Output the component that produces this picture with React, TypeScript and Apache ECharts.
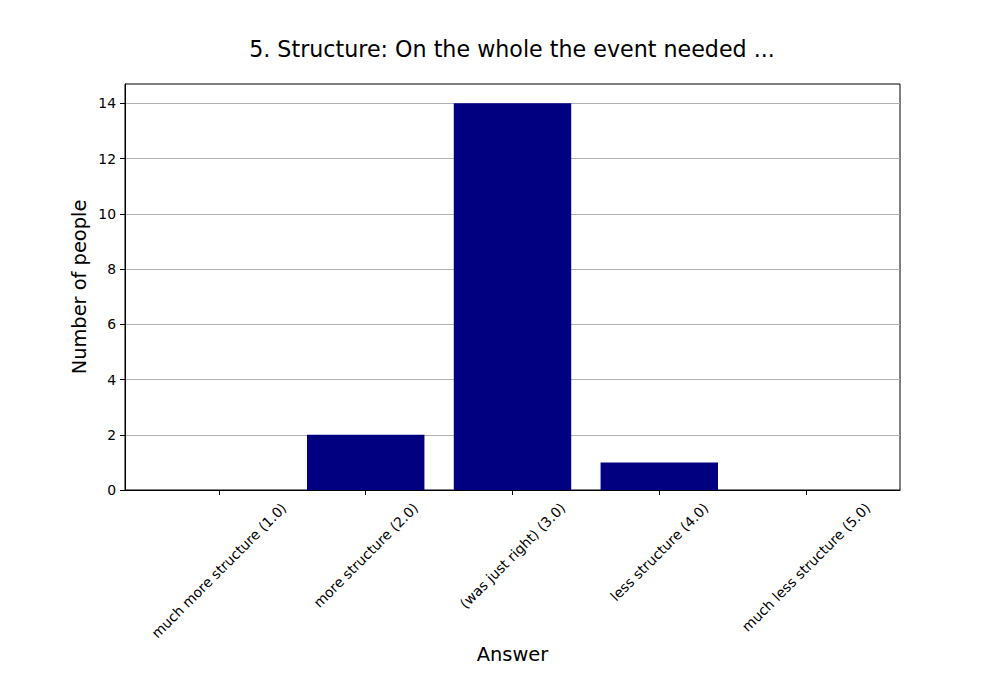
import { useEffect, useRef } from "react";
import * as echarts from "echarts";

const answers = [
  "much more structure (1.0)",
  "more structure (2.0)",
  "(was just right) (3.0)",
  "less structure (4.0)",
  "much less structure (5.0)",
];
const counts = [0, 2, 14, 1, 0];
const yTicks = [0, 2, 4, 6, 8, 10, 12, 14];

const FONT = "DejaVu Sans";
const TICK_FONT = 13.9;

export default function App() {
  const chartRef = useRef<HTMLDivElement>(null);

  useEffect(() => {
    if (!chartRef.current) return;
    const chart = echarts.init(chartRef.current, null, { renderer: "svg" });

    // matplotlib centres rotated labels under the tick, so each label needs its own margin
    const ctx = document.createElement("canvas").getContext("2d")!;
    ctx.font = `${TICK_FONT}px '${FONT}'`;
    const textH = 16;
    const margins = answers.map(
      (a) => 9.7 + 0.354 * (ctx.measureText(a).width + textH)
    );

    const xMin = -0.64;
    const xMax = answers.length - 1 + 0.64;
    const plotW = 1000 - 125 - 100;
    const barW = (0.8 * plotW) / (xMax - xMin);

    const labelAxes = answers.map((_, i) => ({
      type: "value" as const,
      min: xMin,
      max: xMax,
      position: "bottom" as const,
      offset: 0,
      axisLine: { show: false },
      axisTick: { show: false },
      splitLine: { show: false },
      axisLabel: {
        customValues: [i],
        rotate: 45,
        align: "center",
        verticalAlign: "middle",
        margin: margins[i],
        fontFamily: FONT,
        fontSize: TICK_FONT,
        color: "#000",
        formatter: () => answers[i],
      },
    }));

    const option: echarts.EChartsOption = {
      animation: false,
      backgroundColor: "#fff",
      title: {
        text: "5. Structure: On the whole the event needed ...",
        left: 507,
        top: 33,
        textAlign: "center",
        textStyle: {
          fontFamily: FONT,
          fontSize: 22.2,
          fontWeight: "normal",
          color: "#000",
        },
      },
      grid: {
        left: 125,
        right: 100,
        top: 84,
        bottom: 210,
        show: true,
        borderColor: "#000",
        borderWidth: 1,
        backgroundColor: "transparent",
      },
      xAxis: [
        {
          type: "value",
          min: xMin,
          max: xMax,
          position: "bottom",
          name: "Answer",
          nameLocation: "middle",
          nameGap: 155,
          nameMoveOverlap: false,
          nameTextStyle: { fontFamily: FONT, fontSize: 19.4, color: "#000" },
          axisLine: {
            show: true,
            onZero: false,
            lineStyle: { color: "#000", width: 1 },
          },
          axisTick: {
            show: true,
            customValues: [0, 1, 2, 3, 4],
            length: 5,
            lineStyle: { color: "#000", width: 1 },
          },
          axisLabel: { show: false },
          splitLine: { show: false },
        },
        ...labelAxes,
      ] as any,
      yAxis: {
        type: "value",
        min: 0,
        max: 14.7,
        interval: 2,
        position: "left",
        name: "Number of people",
        nameLocation: "middle",
        nameGap: 36,
        nameMoveOverlap: false,
        nameTextStyle: { fontFamily: FONT, fontSize: 19.4, color: "#000" },
        axisLine: {
          show: true,
          onZero: false,
          lineStyle: { color: "#000", width: 1 },
        },
        axisTick: {
          show: true,
          customValues: yTicks,
          length: 5,
          lineStyle: { color: "#000", width: 1 },
        },
        axisLabel: {
          customValues: yTicks,
          margin: 9,
          fontFamily: FONT,
          fontSize: TICK_FONT,
          color: "#000",
        },
        splitLine: { show: true, lineStyle: { color: "#b0b0b0", width: 1 } },
      },
      series: [
        {
          type: "bar",
          xAxisIndex: 0,
          data: counts.map((c, i) => [i, c]),
          barWidth: barW,
          itemStyle: { color: "#000080" },
        },
      ],
    } as any;

    chart.setOption(option);
    return () => chart.dispose();
  }, []);

  return (
    <div
      ref={chartRef}
      style={{ position: "absolute", left: 0, top: 0, width: 1000, height: 700 }}
    />
  );
}
